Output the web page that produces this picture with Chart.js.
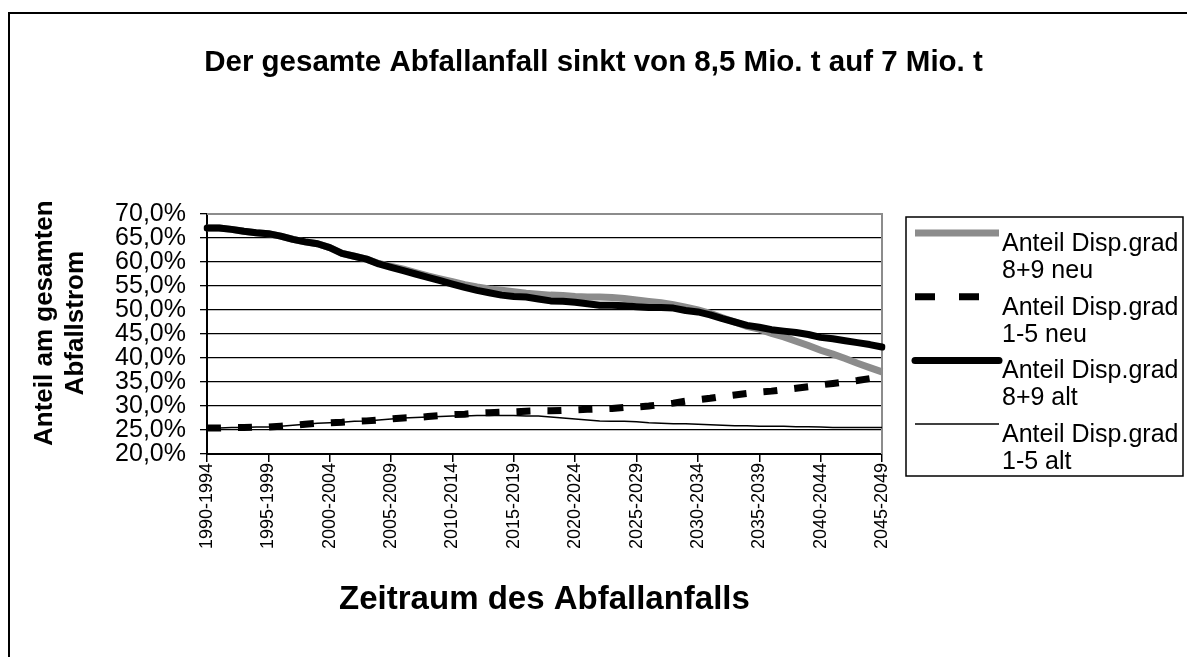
<!DOCTYPE html>
<html>
<head>
<meta charset="utf-8">
<script src="https://cdn.jsdelivr.net/npm/chart.js@4.4.0/dist/chart.umd.min.js"></script>
<style>
html,body{margin:0;padding:0;background:#fff;overflow:hidden}
#wrap{position:relative;width:1187px;height:657px}
</style>
</head>
<body>
<div id="wrap"><canvas id="c" width="1187" height="657"></canvas></div>
<script>
// ---- data ----
const periods = [
  "1990-1994","1991-1995","1992-1996","1993-1997","1994-1998",
  "1995-1999","1996-2000","1997-2001","1998-2002","1999-2003",
  "2000-2004","2001-2005","2002-2006","2003-2007","2004-2008",
  "2005-2009","2006-2010","2007-2011","2008-2012","2009-2013",
  "2010-2014","2011-2015","2012-2016","2013-2017","2014-2018",
  "2015-2019","2016-2020","2017-2021","2018-2022","2019-2023",
  "2020-2024","2021-2025","2022-2026","2023-2027","2024-2028",
  "2025-2029","2026-2030","2027-2031","2028-2032","2029-2033",
  "2030-2034","2031-2035","2032-2036","2033-2037","2034-2038",
  "2035-2039","2036-2040","2037-2041","2038-2042","2039-2043",
  "2040-2044","2041-2045","2042-2046","2043-2047","2044-2048",
  "2045-2049"
];
const seriesNames = [
  ["Anteil Disp.grad", "8+9 neu"],
  ["Anteil Disp.grad", "1-5 neu"],
  ["Anteil Disp.grad", "8+9 alt"],
  ["Anteil Disp.grad", "1-5 alt"]
];
// percent values
const neu89 = [67.1,67.1,66.8,66.4,66.1,65.9,65.4,64.7,64.2,63.8,
  63.0,61.8,61.2,60.6,59.7,59.1,58.5,57.8,57.1,56.5,
  55.9,55.3,54.8,54.4,54.1,53.8,53.5,53.3,53.1,53.0,
  52.8,52.7,52.7,52.6,52.4,52.1,51.8,51.5,51.1,50.6,
  50.0,49.3,48.4,47.5,46.6,46.0,45.1,44.4,43.5,42.6,
  41.6,40.8,39.9,38.9,38.0,37.1];
const neu15 = [25.4,25.4,25.5,25.5,25.6,25.6,25.8,26.0,26.2,26.4,
  26.5,26.6,26.8,26.9,27.1,27.3,27.5,27.6,27.8,28.0,
  28.2,28.3,28.5,28.6,28.7,28.8,28.9,29.0,29.0,29.1,
  29.2,29.3,29.4,29.5,29.7,29.8,30.0,30.3,30.6,31.0,
  31.3,31.6,32.0,32.3,32.6,32.9,33.1,33.4,33.7,34.0,
  34.4,34.7,35.0,35.3,35.7,36.2];
const alt89 = [67.1,67.1,66.8,66.4,66.1,65.9,65.4,64.7,64.2,63.8,
  63.0,61.8,61.2,60.6,59.6,58.9,58.2,57.5,56.8,56.1,
  55.4,54.7,54.1,53.6,53.1,52.8,52.7,52.3,51.9,51.8,
  51.6,51.3,51.0,51.0,50.9,50.7,50.5,50.5,50.4,49.9,
  49.6,49.0,48.2,47.5,46.8,46.4,45.9,45.6,45.3,44.9,
  44.3,44.0,43.6,43.2,42.8,42.3];
const alt15 = [25.4,25.4,25.5,25.5,25.6,25.6,25.8,26.0,26.2,26.4,
  26.5,26.6,26.8,26.9,27.1,27.3,27.5,27.6,27.7,27.8,
  27.9,27.9,28.0,28.0,28.0,28.0,27.9,27.9,27.7,27.5,
  27.3,27.1,26.9,26.8,26.8,26.7,26.5,26.4,26.3,26.3,
  26.2,26.1,26.0,25.9,25.9,25.8,25.8,25.8,25.7,25.7,
  25.6,25.5,25.5,25.5,25.5,25.5];
const yMin = 20, yMax = 70, yStep = 5;
const chartTitle = "Der gesamte Abfallanfall sinkt von 8,5 Mio. t auf 7 Mio. t";
const xTitle = "Zeitraum des Abfallanfalls";
const yTitle = ["   Anteil am gesamten", "   Abfallstrom"];

// ---- styles ----
const FONT = "'Liberation Sans', Arial, Helvetica, sans-serif";
Chart.defaults.color = '#000';
Chart.defaults.font.family = FONT;

const framePlugin = {
  id: 'frame',
  beforeDraw(chart) {
    const c = chart.ctx;
    c.save();
    c.fillStyle = '#fff';
    c.fillRect(0, 0, chart.width, chart.height);
    c.strokeStyle = '#000';
    c.lineWidth = 2;
    c.beginPath();
    c.moveTo(9, chart.height + 5);
    c.lineTo(9, 13);
    c.lineTo(chart.width + 5, 13);
    c.stroke();
    c.restore();
  },
  beforeDatasetsDraw(chart) {
    const a = chart.chartArea, c = chart.ctx;
    c.save();
    c.strokeStyle = '#8c8c8c';
    c.lineWidth = 2;
    c.beginPath();
    c.moveTo(a.left, a.top);
    c.lineTo(a.right, a.top);
    c.lineTo(a.right, a.bottom);
    c.stroke();
    c.restore();
  },
  afterDraw(chart) {
    const c = chart.ctx;
    const bx = 906, by = 217, bw = 277, bh = 259;
    c.save();
    c.strokeStyle = '#000';
    c.lineWidth = 1.5;
    c.strokeRect(bx, by, bw, bh);
    c.font = "25px " + FONT;
    c.fillStyle = '#000';
    c.textBaseline = 'middle';
    c.textAlign = 'left';
    chart.data.datasets.forEach((ds, k) => {
      const sy = 233 + k * 63.7;
      c.save();
      c.strokeStyle = ds.borderColor;
      c.lineWidth = ds.borderWidth;
      c.lineCap = ds.legendCap || 'butt';
      if (ds.legendDash) c.setLineDash(ds.legendDash);
      c.beginPath();
      c.moveTo(915, sy);
      c.lineTo(999, sy);
      c.stroke();
      c.restore();
      const lines = ds.label;
      c.fillText(lines[0], 1002, sy + 11);
      c.fillText(lines[1], 1002, sy + 38);
    });
    c.restore();
  }
};

new Chart(document.getElementById('c'), {
  type: 'line',
  data: {
    labels: periods,
    datasets: [
      { label: seriesNames[0], data: neu89, borderColor: '#8c8c8c', borderWidth: 7, order: 3 },
      { label: seriesNames[1], data: neu15, borderColor: '#000', borderWidth: 7, borderDash: [14, 17], legendDash: [20, 24], order: 1 },
      { label: seriesNames[2], data: alt89, borderColor: '#000', borderWidth: 7, order: 0, borderCapStyle: 'round', borderJoinStyle: 'round', legendCap: 'round' },
      { label: seriesNames[3], data: alt15, borderColor: '#000', borderWidth: 1.5, order: 2 }
    ]
  },
  options: {
    responsive: false,
    animation: false,
    devicePixelRatio: 1,
    layout: { padding: 0 },
    elements: { point: { radius: 0 }, line: { tension: 0 } },
    plugins: {
      legend: { display: false },
      tooltip: { enabled: false },
      title: {
        display: true,
        text: chartTitle,
        color: '#000',
        font: { family: FONT, size: 29.5, weight: 'bold', lineHeight: 1.2 },
        padding: { top: 45.3, bottom: 133.3 }
      }
    },
    scales: {
      x: {
        type: 'category',
        offset: false,
        grid: { drawOnChartArea: false, color: '#000', tickLength: 8, lineWidth: 1.5 },
        border: { color: '#000', width: 2 },
        ticks: {
          autoSkip: false, maxRotation: 90, minRotation: 90, padding: 1,
          font: { family: FONT, size: 18 }, color: '#000',
          callback: (v, i) => (i % 5 === 0 ? periods[i] : null)
        },
        title: {
          display: true, text: xTitle, color: '#000',
          font: { family: FONT, size: 33, weight: 'bold', lineHeight: 1.2 },
          padding: { top: 0, bottom: 37 }
        },
        afterFit(s) { s.height = 203; }
      },
      y: {
        min: yMin, max: yMax,
        grid: { color: '#000', tickLength: 7, lineWidth: 1.3 },
        border: { color: '#000', width: 2 },
        ticks: {
          stepSize: yStep, autoSkip: false, padding: 14,
          font: { family: FONT, size: 25, lineHeight: 1 }, color: '#000',
          callback: v => v.toFixed(1).replace('.', ',') + '%'
        },
        title: {
          display: true, text: yTitle, color: '#000',
          font: { family: FONT, size: 26, weight: 'bold', lineHeight: 1.2 },
          padding: { top: 29.4, bottom: 0 }
        },
        afterFit(s) { s.width = 207; }
      },
      y2: {
        position: 'right', display: true,
        grid: { display: false, drawTicks: false },
        border: { display: false },
        ticks: { display: false },
        afterFit(s) { s.width = 305; }
      }
    }
  },
  plugins: [framePlugin]
});
</script>
</body>
</html>
